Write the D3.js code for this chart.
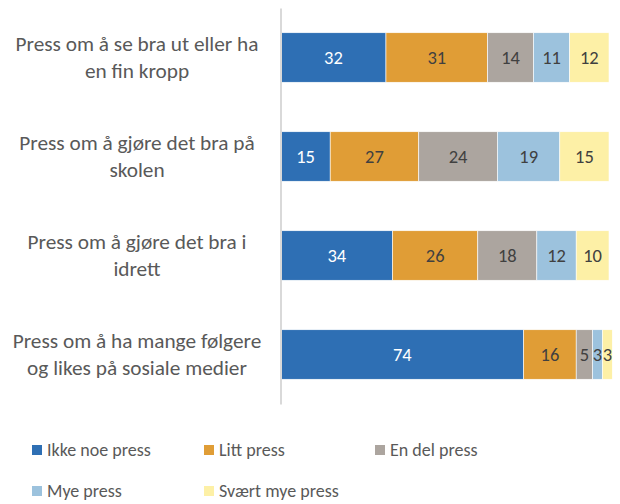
<!DOCTYPE html>
<html>
<head>
<meta charset="utf-8">
<script src="https://cdn.jsdelivr.net/npm/d3@7"></script>
<style>
  html, body { margin: 0; padding: 0; background: #fff; }
  svg { display: block; font-family: Carlito, Calibri, Lato, sans-serif; }
</style>
</head>
<body>
<svg id="chart" width="620" height="504"></svg>
<script>
// Category labels, one array of lines per bar
const categories = [
  ["Press om å se bra ut eller ha", "en fin kropp"],
  ["Press om å gjøre det bra på", "skolen"],
  ["Press om å gjøre det bra i", "idrett"],
  ["Press om å ha mange følgere", "og likes på sosiale medier"]
];
const seriesNames = ["Ikke noe press", "Litt press", "En del press", "Mye press", "Svært mye press"];
const ikkeNoe   = [32, 15, 34, 74];
const litt      = [31, 27, 26, 16];
const enDel     = [14, 24, 18, 5];
const mye       = [11, 19, 12, 3];
const sværtMye  = [12, 15, 10, 3];
const colors = ["#2e6fb4", "#e09d36", "#aca59f", "#9cc2dd", "#fdf0a6"];
const labelColors = ["#ffffff", "#404040", "#404040", "#404040", "#404040"];

const seriesValues = [ikkeNoe, litt, enDel, mye, sværtMye];
const rows = categories.map((c, i) => {
  const r = { idx: i };
  seriesNames.forEach((s, k) => r[s] = seriesValues[k][i]);
  return r;
});

const svg = d3.select("#chart");
const plotLeft = 281, plotRight = 609, plotTop = 8, plotBottom = 404;

const x = d3.scaleLinear().domain([0, 100]).range([plotLeft, plotRight]);
const y = d3.scaleBand().domain(d3.range(categories.length)).range([plotTop, plotBottom])
  .paddingInner(0.5).paddingOuter(0.25);

const stack = d3.stack().keys(seriesNames)(rows);

const layers = svg.append("g").selectAll("g").data(stack).join("g")
  .attr("fill", (d, k) => colors[k]);

layers.selectAll("rect").data(d => d).join("rect")
  .attr("x", d => x(d[0]))
  .attr("y", d => y(d.data.idx))
  .attr("width", d => x(d[1]) - x(d[0]))
  .attr("height", y.bandwidth())
  .attr("stroke", "#ffffff")
  .attr("stroke-width", 0.6);

// Value labels centred in each segment
stack.forEach((layer, k) => {
  svg.append("g").selectAll("text").data(layer).join("text")
    .attr("x", d => (x(d[0]) + x(d[1])) / 2)
    .attr("y", d => y(d.data.idx) + y.bandwidth() / 2)
    .attr("dy", "0.36em")
    .attr("text-anchor", "middle")
    .attr("font-size", 18.5)
    .attr("fill", labelColors[k])
    .text(d => d[1] - d[0]);
});

// Category axis
const axis = svg.append("g").attr("transform", `translate(${plotLeft - 0.5},0)`)
  .call(d3.axisLeft(y).tickSize(0).tickFormat(""));
axis.select(".domain").attr("stroke", "#d9d9d9").attr("stroke-width", 2);

const catG = svg.append("g");
categories.forEach((lines, i) => {
  const cy = y(i) + y.bandwidth() / 2;
  const t = catG.append("text")
    .attr("x", 137)
    .attr("text-anchor", "middle")
    .attr("font-size", 21.3)
    .attr("fill", "#595959");
  lines.forEach((ln, j) => {
    t.append("tspan")
      .attr("x", 137)
      .attr("y", cy + (j - (lines.length - 1) / 2) * 27)
      .attr("dy", "0.35em")
      .text(ln);
  });
});

// Legend
const legendPos = [[32, 450], [204, 450], [375, 450], [32, 491], [204, 491]];
const legend = svg.append("g");
seriesNames.forEach((s, k) => {
  const [lx, ly] = legendPos[k];
  legend.append("rect").attr("x", lx).attr("y", ly - 5).attr("width", 10).attr("height", 10)
    .attr("fill", colors[k]);
  legend.append("text").attr("x", lx + 15).attr("y", ly).attr("dy", "0.35em")
    .attr("font-size", 18).attr("fill", "#595959").text(s);
});
</script>
</body>
</html>
